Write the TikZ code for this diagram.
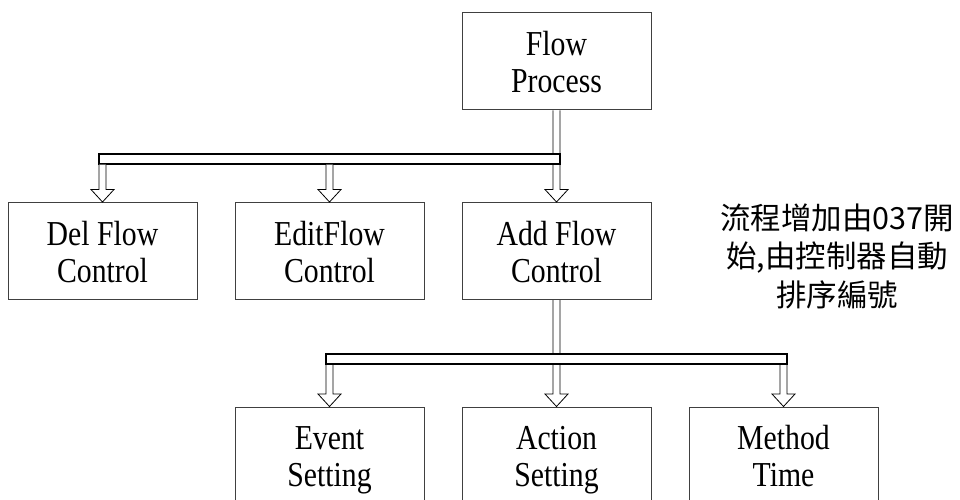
\documentclass[tikz,border=0pt]{standalone}
\usepackage{fontspec}
\setmainfont[FakeStretch=0.85]{Liberation Serif}
\newfontfamily\cjk{Noto Sans CJK TC}
\usepackage{tikz}
\usetikzlibrary{calc}

\begin{document}
\begin{tikzpicture}[x=1pt,y=-1pt,
	box/.style={draw=black!75, line width=1pt, fill=white, minimum width=189pt, minimum height=97pt,
		inner sep=0pt, text width=189pt, align=flush center, font=\fontsize{35}{37}\selectfont,
		execute at begin node={\rule{0pt}{37pt}}, execute at end node=\strut},
	bar/.style={draw, line width=2pt, fill=white, inner sep=0pt, minimum height=10pt},
	hollow/.style={draw, line width=0.8pt, fill=white, to path={
		let \p1=(\tikztostart), \p2=(\tikztotarget) in
		({\x1-3.5pt},\y1) -- ({\x1-3.5pt},{\y2+12.5pt}) -- ({\x1-11.5pt},{\y2+12.5pt}) -- (\x1,\y2)
		-- ({\x1+11.5pt},{\y2+12.5pt}) -- ({\x1+3.5pt},{\y2+12.5pt}) -- ({\x1+3.5pt},\y1)}}]
	\useasboundingbox (0,0) rectangle (960,500);
	
	\node [box] (process) at (556.5,61.5) {Flow\\Process};
	\node [box] (del) at (102.5,251) {Del Flow\\Control};
	\node [box] (edit) at (329.5,251) {EditFlow\\Control};
	\node [box] (add) at (556.5,251) {Add Flow\\Control};
	\node [box] (event) at (329.5,455.5) {Event\\Setting};
	\node [box] (action) at (556.5,455.5) {Action\\Setting};
	\node [box] (method) at (783.5,455.5) {Method\\Time};
	
	\path [hollow] (process.south) to (add.north);
	\path [hollow] (add.south) to (action.north);
	
	\node [bar, minimum width=461pt] (bar1) at (329.3,158.5) {};
	\node [bar, minimum width=461pt] (bar2) at (556,359) {};
	
	\foreach \b in {del,edit}
		\path [hollow] (bar1.south -| \b.north) to (\b.north);
	\foreach \b in {event,method}
		\path [hollow] (bar2.south -| \b.north) to (\b.north);
	
	\node [align=center, font=\cjk\fontsize{30.5}{38.5}\selectfont] (note) at (837,256)
		{流程增加由037開\\始,由控制器自動\\排序編號};
	
\end{tikzpicture}
\end{document}
